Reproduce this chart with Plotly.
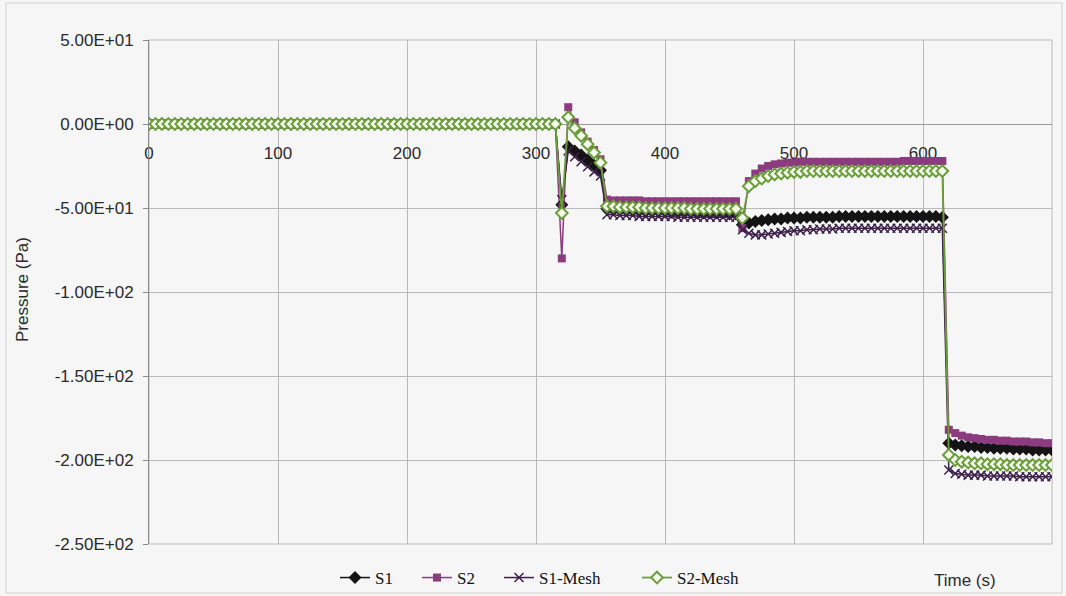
import plotly.graph_objects as go

# Sample times (s)
time_s = [
    0, 5, 10, 15, 20, 25, 30, 35, 40, 45, 50, 55, 60, 65, 70, 75,
    80, 85, 90, 95, 100, 105, 110, 115, 120, 125, 130, 135, 140, 145, 150, 155,
    160, 165, 170, 175, 180, 185, 190, 195, 200, 205, 210, 215, 220, 225, 230, 235,
    240, 245, 250, 255, 260, 265, 270, 275, 280, 285, 290, 295, 300, 305, 310, 315,
    320, 325, 330, 335, 340, 345, 350,
    355, 360, 365, 370, 375, 380, 385, 390, 395, 400, 405, 410, 415, 420, 425, 430,
    435, 440, 445, 450, 455,
    460,
    465, 470, 475, 480, 485, 490, 495, 500, 505, 510, 515, 520, 525, 530, 535, 540,
    545, 550, 555, 560, 565, 570, 575, 580, 585, 590, 595, 600, 605, 610, 615,
    620, 625, 630, 635, 640, 645, 650, 655, 660, 665, 670, 675, 680, 685, 690, 695, 700,
]

# Pressure before the release (t = 0 .. 315 s), identical for all probes
pre_release = [
    0.0, 0.0, 0.0, 0.0, 0.0, 0.0, 0.0, 0.0,
    0.0, 0.0, 0.0, 0.0, 0.0, 0.0, 0.0, 0.0,
    0.0, 0.0, 0.0, 0.0, 0.0, 0.0, 0.0, 0.0,
    0.0, 0.0, 0.0, 0.0, 0.0, 0.0, 0.0, 0.0,
    0.0, 0.0, 0.0, 0.0, 0.0, 0.0, 0.0, 0.0,
    0.0, 0.0, 0.0, 0.0, 0.0, 0.0, 0.0, 0.0,
    0.0, 0.0, 0.0, 0.0, 0.0, 0.0, 0.0, 0.0,
    0.0, 0.0, 0.0, 0.0, 0.0, 0.0, 0.0, 0.0,
]

# Pressure (Pa) from t = 320 s onward
s1_after = [
    -48, -13.5, -16, -18.5, -21.5, -24.5, -27.5,
    -50.5, -51, -51, -51.5, -51.5, -51.5, -52, -52, -52, -52,
    -52.5, -52.5, -52.5, -52.5, -53, -53, -53, -53, -53, -53.5, -53.5,
    -60,
    -59, -58, -57.5, -57, -56.5, -56.5, -56, -56, -56, -55.5,
    -55.5, -55.5, -55.5, -55.5, -55, -55, -55, -55, -55, -55,
    -55, -55, -55, -55, -55, -55, -55, -55, -55, -55, -55.5,
    -190, -191, -191.5, -192, -192, -192.5, -192.5, -193, -193, -193,
    -193.5, -193.5, -193.5, -194, -194, -194, -194,
]
s2_after = [
    -80, 10, 1, -5, -10.5, -15.5, -21,
    -45, -45.5, -45.5, -45.5, -45.5, -45.5, -46, -46, -46, -46,
    -46, -46, -46, -46, -46, -46, -46, -46, -46, -46, -46,
    -62,
    -34, -29.5, -26.5, -25, -24, -23.5, -23, -23, -22.5, -22.5,
    -22.5, -22.5, -22.5, -22.5, -22.5, -22.5, -22.5, -22.5, -22.5, -22.5,
    -22.5, -22.5, -22.5, -22.5, -22, -22, -22, -22, -22, -22, -22,
    -182, -184, -185.5, -186.5, -187, -187.5, -188, -188, -188.5, -188.5,
    -189, -189, -189, -189.5, -189.5, -190, -190,
]
s1_mesh_after = [
    -45, -16, -19.5, -22.5, -25.5, -28.5, -31,
    -54, -54, -54.5, -54.5, -54.5, -55, -55, -55, -55, -55,
    -55, -55.5, -55.5, -55.5, -55.5, -55.5, -55.5, -55.5, -55.5, -55.5, -55.5,
    -63,
    -65, -66, -66, -65.5, -65, -64.5, -64, -63.5, -63.5, -63,
    -63, -62.5, -62.5, -62.5, -62, -62, -62, -62, -62, -62,
    -62, -62, -62, -62, -62, -62, -62, -62, -62, -62, -62,
    -206, -208, -208.5, -209, -209, -209, -209.5, -209.5, -209.5, -209.5,
    -209.5, -210, -210, -210, -210, -210, -210,
]
s2_mesh_after = [
    -53, 4, -2.5, -7, -12, -17, -23,
    -49, -49, -49.5, -49.5, -49.5, -49.5, -50, -50, -50, -50,
    -50, -50, -50, -50.5, -50.5, -50.5, -50.5, -50.5, -50.5, -50.5, -50.5,
    -56,
    -37, -34, -32.5, -31, -30, -29.5, -29, -28.5, -28.5, -28,
    -28, -28, -28, -28, -28, -28, -28, -28, -28, -28,
    -28, -28, -28, -28, -28, -28, -28, -28, -28, -28, -28,
    -197, -200, -201, -201.5, -202, -202, -202.5, -202.5, -202.5, -203,
    -203, -203, -203, -203, -203, -203, -203,
]

s1 = pre_release + s1_after
s2 = pre_release + s2_after
s1_mesh = pre_release + s1_mesh_after
s2_mesh = pre_release + s2_mesh_after

x_ticks = [0, 100, 200, 300, 400, 500, 600, 700]
y_ticks = [50, 0, -50, -100, -150, -200, -250]
y_tick_text = ["5.00E+01", "0.00E+00", "-5.00E+01", "-1.00E+02",
               "-1.50E+02", "-2.00E+02", "-2.50E+02"]

GRID = "#b9b9b9"
BG = "#f6f6f6"
W, H = 1066, 596

fig = go.Figure()

fig.add_trace(go.Scatter(
    x=time_s, y=s1, name="S1", mode="lines+markers", legend="legend",
    line=dict(color="#141414", width=1.5),
    marker=dict(symbol="diamond", size=10, color="#141414"),
))
fig.add_trace(go.Scatter(
    x=time_s, y=s2, name="S2", mode="lines+markers", legend="legend2",
    line=dict(color="#8c3b7f", width=1.5),
    marker=dict(symbol="square", size=8, color="#8c3b7f"),
))
fig.add_trace(go.Scatter(
    x=time_s, y=s1_mesh, name="S1-Mesh", mode="lines+markers", legend="legend3",
    line=dict(color="#3b2049", width=1.5),
    marker=dict(symbol="x-thin", size=9, color="#3b2049",
                line=dict(color="#3b2049", width=1.5)),
))
fig.add_trace(go.Scatter(
    x=time_s, y=s2_mesh, name="S2-Mesh", mode="lines+markers", legend="legend4",
    line=dict(color="#6b9e3a", width=1.8),
    marker=dict(symbol="diamond", size=9, color="#f4f8ee",
                line=dict(color="#6b9e3a", width=2)),
))


def legend_at(px):
    # one legend box per series, placed along the bottom of the chart
    return dict(
        xref="container", yref="container",
        x=(px - 18) / W, xanchor="left", y=(H - 578) / H, yanchor="middle",
        font=dict(family="Liberation Serif, Times New Roman, serif", size=17, color="#111111"),
        bgcolor="rgba(0,0,0,0)", itemwidth=30, orientation="h",
    )


fig.update_layout(
    width=W, height=H,
    margin=dict(l=149, r=14, t=40, b=52),
    paper_bgcolor=BG, plot_bgcolor=BG,
    font=dict(family="Liberation Sans, Arial, sans-serif", size=16, color="#2b2b2b"),
    showlegend=True,
    legend=legend_at(353),
    legend2=legend_at(435),
    legend3=legend_at(517),
    legend4=legend_at(655),
    xaxis=dict(
        range=[0, 700], tickvals=x_ticks, ticktext=[str(v) for v in x_ticks],
        anchor="free", position=250 / 300, automargin=False,
        showgrid=True, gridcolor=GRID, gridwidth=1, zeroline=False,
        showline=True, linecolor="#999999", linewidth=1,
        ticks="", ticklabelstandoff=14, layer="below traces",
        tickfont=dict(size=17, color="#2b2b2b"),
    ),
    yaxis=dict(
        range=[-250, 50], tickvals=y_ticks, ticktext=y_tick_text, automargin=False,
        showgrid=True, gridcolor=GRID, gridwidth=1, zeroline=False,
        showline=True, linecolor="#8a8a8a", linewidth=1,
        ticks="outside", ticklen=5, tickcolor="#8a8a8a",
        ticklabelstandoff=6,
        tickfont=dict(size=17, color="#2b2b2b"),
    ),
    shapes=[
        dict(type="rect", xref="x domain", yref="y domain", x0=0, x1=1, y0=0, y1=1,
             line=dict(color=GRID, width=1), layer="below"),
        dict(type="rect", xref="paper", yref="paper",
             x0=(6 - 149) / 903, x1=(1062 - 149) / 903,
             y0=-(593 - 544) / 504, y1=(544 - 3) / 504,
             line=dict(color="#d0d0d0", width=1), layer="below"),
    ],
    annotations=[
        dict(text="Pressure (Pa)", xref="paper", yref="paper",
             x=(22 - 149) / 903, y=(544 - 290) / 504, textangle=-90,
             showarrow=False, xanchor="center", yanchor="middle",
             font=dict(size=17, color="#2b2b2b")),
        dict(text="Time (s)", xref="paper", yref="paper",
             x=(965 - 149) / 903, y=-(580 - 544) / 504,
             showarrow=False, xanchor="center", yanchor="middle",
             font=dict(size=17, color="#2b2b2b")),
    ],
)

fig.write_html("out.html")
